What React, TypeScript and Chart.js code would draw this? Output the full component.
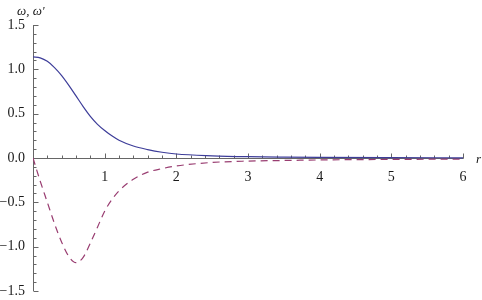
import React, { useEffect, useRef } from 'react';
import { Chart, registerables } from 'chart.js';

Chart.register(...registerables);

// radial coordinate r
const rValues = [0, 0.1, 0.2, 0.3, 0.4, 0.5, 0.6, 0.7, 0.8, 0.9, 1.0, 1.1, 1.2, 1.4, 1.6, 1.8, 2.0, 2.5, 3.0, 3.5, 4.0, 5.0, 6.0];
// ω(r) — solid blue
const omega = [1.14, 1.13, 1.09, 1.02, 0.93, 0.82, 0.70, 0.58, 0.47, 0.38, 0.31, 0.25, 0.20, 0.135, 0.095, 0.065, 0.045, 0.025, 0.015, 0.01, 0.007, 0.004, 0.002];
// ω'(r) — dashed purple
const omegaPrime = [0, -0.26, -0.50, -0.74, -0.95, -1.11, -1.18, -1.12, -0.96, -0.78, -0.60, -0.47, -0.37, -0.24, -0.16, -0.12, -0.09, -0.05, -0.035, -0.028, -0.022, -0.016, -0.012];

const xMajorTicks = [1, 2, 3, 4, 5, 6];
const yMajorTicks = [-1.5, -1.0, -0.5, 0.0, 0.5, 1.0, 1.5];
const xMinorStep = 0.2;
const yMinorStep = 0.1;
const yAxisTitle = "ω, ω'";
const xAxisTitle = 'r';

const AXIS_COLOR = '#666666';
const TEXT_COLOR = '#1a1a1a';
const FONT_FAMILY = '"Liberation Serif", "Times New Roman", serif';

const axesPlugin = {
  id: 'mmaAxes',
  beforeDatasetsDraw(chart: any) {
    const { ctx } = chart;
    const xs = chart.scales.x;
    const ys = chart.scales.y;
    const x0 = Math.round(xs.getPixelForValue(0)) + 0.5;
    const y0 = Math.round(ys.getPixelForValue(0)) + 0.5;
    const xEnd = xs.getPixelForValue(xs.max);
    const yTop = ys.getPixelForValue(ys.max);
    const yBot = ys.getPixelForValue(ys.min);
    ctx.save();
    ctx.strokeStyle = AXIS_COLOR;
    ctx.lineWidth = 1;
    ctx.beginPath();
    ctx.moveTo(x0, y0);
    ctx.lineTo(xEnd + 0.5, y0);
    ctx.moveTo(x0, yTop);
    ctx.lineTo(x0, yBot);
    // x ticks (inward / upward)
    const nx = Math.round(xs.max / xMinorStep);
    for (let i = 1; i <= nx; i++) {
      const v = i * xMinorStep;
      const px = Math.round(xs.getPixelForValue(v)) + 0.5;
      const major = i % 5 === 0;
      ctx.moveTo(px, y0);
      ctx.lineTo(px, y0 - (major ? 5 : 3));
    }
    // y ticks (inward / rightward)
    const nyMin = Math.round(ys.min / yMinorStep);
    const nyMax = Math.round(ys.max / yMinorStep);
    for (let i = nyMin; i <= nyMax; i++) {
      if (i === 0) continue;
      const v = i * yMinorStep;
      const py = Math.round(ys.getPixelForValue(v)) + 0.5;
      const major = i % 5 === 0;
      ctx.moveTo(x0, py);
      ctx.lineTo(x0 + (major ? 5 : 3), py);
    }
    ctx.stroke();

    // axis labels
    ctx.fillStyle = TEXT_COLOR;
    ctx.font = 'italic 13px ' + FONT_FAMILY;
    ctx.textAlign = 'left';
    ctx.textBaseline = 'alphabetic';
    ctx.fillText(yAxisTitle, 17, 15);
    ctx.fillText(xAxisTitle, 476, 163);
    ctx.restore();
  },
};

export default function App() {
  const canvasRef = useRef<HTMLCanvasElement | null>(null);

  useEffect(() => {
    const canvas = canvasRef.current;
    if (!canvas) return;
    const chart = new Chart(canvas, {
      type: 'line',
      data: {
        datasets: [
          {
            label: 'ω',
            data: rValues.map((r, i) => ({ x: r, y: omega[i] })),
            borderColor: 'rgb(61,61,153)',
            borderWidth: 1.2,
            pointRadius: 0,
            cubicInterpolationMode: 'monotone',
            fill: false,
          },
          {
            label: "ω'",
            data: rValues.map((r, i) => ({ x: r, y: omegaPrime[i] })),
            borderColor: 'rgb(153,61,113)',
            borderWidth: 1.2,
            borderDash: [7, 5],
            pointRadius: 0,
            cubicInterpolationMode: 'monotone',
            fill: false,
          },
        ],
      },
      options: {
        animation: false,
        responsive: false,
        devicePixelRatio: 1,
        layout: { padding: { left: 0, top: 25, right: 19, bottom: 9 } },
        plugins: {
          legend: { display: false },
          tooltip: { enabled: false },
          title: { display: false },
        },
        scales: {
          x: {
            type: 'linear',
            min: 0,
            max: 6,
            position: { y: 0 } as any,
            grid: { display: false, drawTicks: false },
            border: { display: false },
            afterBuildTicks: (scale: any) => {
              scale.ticks = xMajorTicks.map((v) => ({ value: v }));
            },
            ticks: {
              autoSkip: false,
              maxRotation: 0,
              padding: 11,
              color: TEXT_COLOR,
              font: { family: FONT_FAMILY, size: 14 },
              callback: (v: any) => String(v),
            },
          },
          y: {
            type: 'linear',
            min: -1.5,
            max: 1.5,
            position: 'left',
            grid: { display: false, drawTicks: false },
            border: { display: false },
            afterFit: (scale: any) => {
              scale.width = 33;
              scale.paddingTop = 0;
              scale.paddingBottom = 0;
            },
            afterBuildTicks: (scale: any) => {
              scale.ticks = yMajorTicks.map((v) => ({ value: v }));
            },
            ticks: {
              autoSkip: false,
              padding: 8,
              color: TEXT_COLOR,
              font: { family: FONT_FAMILY, size: 14 },
              callback: (v: any) => (Number(v) < 0 ? '\u2212' : '') + Math.abs(Number(v)).toFixed(1),
            },
          },
        },
      },
      plugins: [axesPlugin],
    });
    return () => chart.destroy();
  }, []);

  return (
    <div style={{ position: 'fixed', left: 0, top: 0, width: 482, height: 300, background: '#fff' }}>
      <canvas ref={canvasRef} width={482} height={300} style={{ width: 482, height: 300, display: 'block' }} />
    </div>
  );
}
